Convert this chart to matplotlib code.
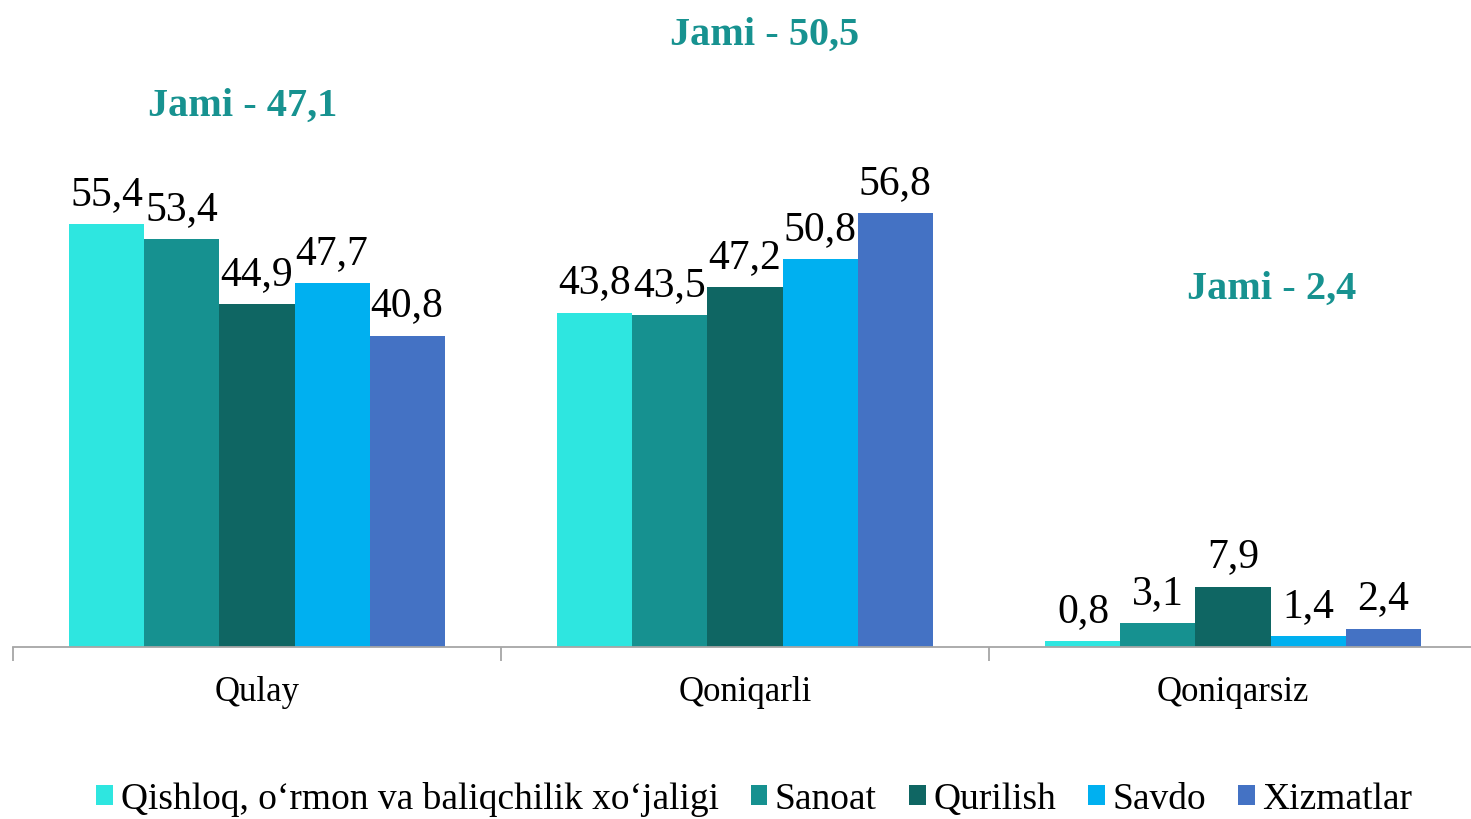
import numpy as np
import matplotlib.pyplot as plt

plt.rcParams['font.family'] = ['Liberation Serif', 'DejaVu Serif']

categories = ['Qulay', 'Qoniqarli', 'Qoniqarsiz']
series = ['Qishloq, o‘rmon va baliqchilik xo‘jaligi', 'Sanoat', 'Qurilish', 'Savdo', 'Xizmatlar']
values = [
    [55.4, 43.8, 0.8],
    [53.4, 43.5, 3.1],
    [44.9, 47.2, 7.9],
    [47.7, 50.8, 1.4],
    [40.8, 56.8, 2.4],
]
colors = ['#2EE6E0', '#169190', '#0F6663', '#00B0F0', '#4472C4']
totals = ['Jami - 47,1', 'Jami - 50,5', 'Jami - 2,4']
# where each total caption sits (category units, value units)
total_pos = [(-0.03, 71.0), (1.04, 80.3), (2.08, 47.0)]

fig = plt.figure(figsize=(14.71, 8.2), dpi=100)
ax = fig.add_axes([13 / 1471, 1 - 648 / 820, 1464 / 1471, 648 / 820])

x = np.arange(len(categories))
w = 0.1537
for i, (name, vals) in enumerate(zip(series, values)):
    pos = x + (i - 2) * w
    bars = ax.bar(pos, vals, w, color=colors[i], label=name, zorder=2)
    for b, v in zip(bars, vals):
        ax.annotate(f'{v:.1f}'.replace('.', ','), (b.get_x() + w / 2, v),
                    xytext=(0, 8), textcoords='offset points',
                    ha='center', va='bottom', fontsize=30)

for t, (tx, ty) in zip(totals, total_pos):
    ax.text(tx, ty, t, ha='center', va='center', fontsize=29,
            fontweight='bold', color='#179290')

ax.set_xlim(-0.5, 2.5)
ax.set_ylim(0, 84.9)
ax.set_yticks([])
for s in ['left', 'right', 'top']:
    ax.spines[s].set_visible(False)
ax.spines['bottom'].set_color('#A6A6A6')
ax.spines['bottom'].set_linewidth(1.3)
ax.set_xticks([-0.5, 0.5, 1.5, 2.5])
ax.set_xticklabels([])
ax.set_xticks(x, minor=True)
ax.set_xticklabels(categories, minor=True, fontsize=25)
ax.tick_params(axis='x', which='major', length=10, color='#A6A6A6', width=1.3)
ax.tick_params(axis='x', which='minor', length=0, pad=20)

fig.legend(loc='center', bbox_to_anchor=(0.5127, 1 - 800 / 820), ncol=5,
           frameon=False, fontsize=27, handlelength=0.45, handleheight=0.45,
           handletextpad=0.2, columnspacing=0.85, borderaxespad=0)

fig.savefig('out.png', dpi=100)
